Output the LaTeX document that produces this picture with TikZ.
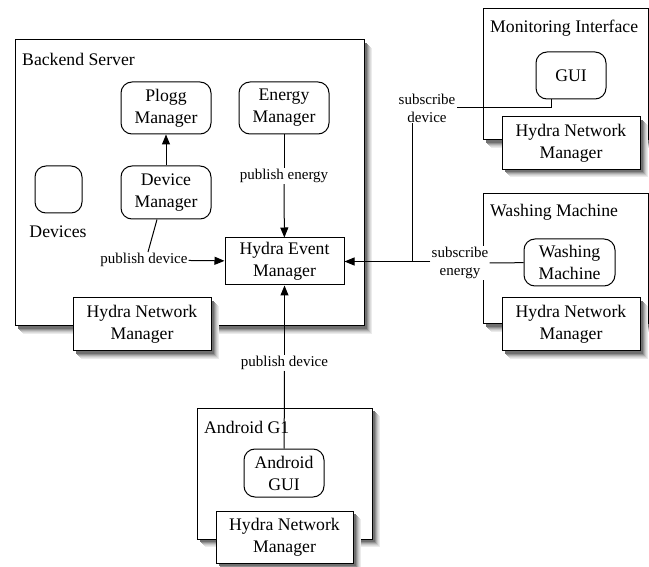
\documentclass[tikz,border=0pt]{standalone}
\usepackage{fontspec}
\setmainfont{Liberation Serif}
\usetikzlibrary{arrows.meta}

% soft shadow under a box, corners in pixels
\newcommand{\shadebox}[4]{%
  \foreach \off/\tone in {8/8,7/14,6/22,5/32,4/44,3/56}{%
    \fill[black!\tone] (#1+\off,#2+\off) rectangle (#3+\off,#4+\off);}}

\begin{document}
\begin{tikzpicture}[
    x=1pt, y=-1pt,
    container/.style={draw, line width=1pt, fill=white},
    netbox/.style={container, minimum width=138pt, minimum height=53pt, inner sep=0pt, align=center, font=\fontsize{17.7}{22}\selectfont},
    part/.style={draw, line width=1pt, rounded corners=11pt, fill=white, inner sep=0pt, align=center, font=\fontsize{17.7}{22}\selectfont},
    title/.style={anchor=west, inner sep=0pt, font=\fontsize{17.7}{22}\selectfont},
    tag/.style={fill=white, inner sep=1pt, align=center, font=\fontsize{15}{18}\selectfont},
    arrow/.style={-{Triangle[length=10pt,width=8pt]}, line width=1pt},
    link/.style={line width=1pt}
]
    \useasboundingbox (0,0) rectangle (649,567);

    % Backend server
    \shadebox{15}{40}{364}{326}
    \node[container, minimum width=349pt, minimum height=286pt] (backend) at (189.5,183) {};
    \node[title] (backendtitle) at (22,59) {Backend Server};
    \shadebox{73}{298}{211}{351}
    \node[netbox] (backnet) at (142,324.5) {Hydra Network\\Manager};
    \node[part, minimum width=90pt, minimum height=52pt] (plogg) at (166,108) {Plogg\\Manager};
    \node[part, minimum width=90pt, minimum height=52pt] (energy) at (284,108) {Energy\\Manager};
    \node[part, minimum width=47pt, minimum height=47pt] (devices) at (58.5,189.5) {};
    \node[title, anchor=center] (devlabel) at (58,232) {Devices};
    \node[part, minimum width=90pt, minimum height=53pt] (devmgr) at (166,192.5) {Device\\Manager};
    \node[draw, line width=1pt, fill=white, inner sep=0pt, align=center, minimum width=119pt, minimum height=47pt, font=\fontsize{17.7}{22}\selectfont] (event) at (284.5,261.5) {Hydra Event\\Manager};

    % Monitoring interface
    \shadebox{483}{9}{648}{140}
    \node[container, minimum width=165pt, minimum height=131pt] (monitor) at (565.5,74.5) {};
    \node[title] (monitortitle) at (490,28) {Monitoring Interface};
    \shadebox{502}{117}{640}{169}
    \node[netbox] (monnet) at (571,143) {Hydra Network\\Manager};
    \node[part, minimum width=70pt, minimum height=47pt] (gui) at (571,75.5) {GUI};

    % Washing machine
    \shadebox{483}{194}{648}{324}
    \node[container, minimum width=165pt, minimum height=130pt] (washing) at (565.5,259) {};
    \node[title] (washingtitle) at (490,212) {Washing Machine};
    \shadebox{502}{298}{640}{351}
    \node[netbox] (washnet) at (571,324.5) {Hydra Network\\Manager};
    \node[part, minimum width=91pt, minimum height=47pt] (wm) at (569.5,262.5) {Washing\\Machine};

    % Android G1
    \shadebox{197}{408}{372}{539}
    \node[container, minimum width=175pt, minimum height=131pt] (android) at (284.5,473.5) {};
    \node[title] (androidtitle) at (204,427) {Android G1};
    \shadebox{216}{511}{353}{563}
    \node[netbox, minimum width=137pt, minimum height=52pt] (andnet) at (284.5,537) {Hydra Network\\Manager};
    \node[part, minimum width=80pt, minimum height=48pt] (agui) at (284,473) {Android\\GUI};

    % Labels on the links
    \node[tag] (pubdev) at (144,260) {publish device};
    \node[tag] (pubene) at (284,176) {publish energy};
    \node[tag] (subdev) at (427,108) {subscribe\\device};
    \node[tag] (subene) at (460,263) {subscribe\\energy};
    \node[tag] (pubdev2) at (284.5,363) {publish device};
    \coordinate (join) at (412,262);

    % Links
    \draw[arrow] (devmgr) -- (plogg);
    \draw[link] ([xshift=-9pt]devmgr.south) -- ([xshift=4pt]pubdev.north);
    \draw[arrow] (pubdev) -- (event);
    \draw[link] (energy) -- (pubene);
    \draw[arrow] (pubene) -- (event);
    \draw[link] ([xshift=-20pt]gui.south) |- (subdev.east);
    \draw[link] (subdev.south -| join) -- (join);
    \draw[link] (wm) -- (subene);
    \draw[arrow] (subene.west |- event.east) -- (event.east);
    \draw[link] (agui) -- (pubdev2);
    \draw[arrow] (pubdev2) -- (event);
\end{tikzpicture}
\end{document}
